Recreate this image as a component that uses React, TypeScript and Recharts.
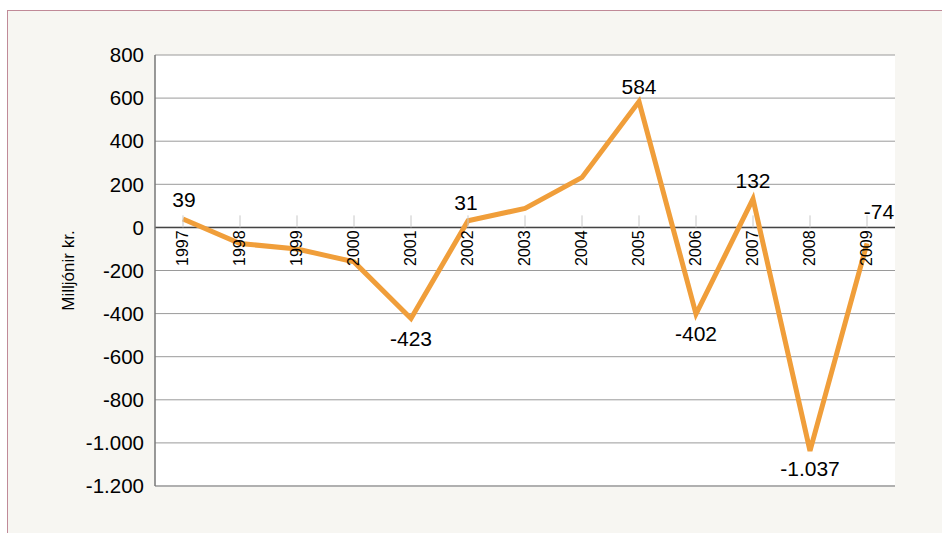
import React from 'react';
import { LineChart, Line, XAxis, YAxis, CartesianGrid, ReferenceLine, ReferenceDot, LabelList, Label } from 'recharts';

const years = ['1997', '1998', '1999', '2000', '2001', '2002', '2003', '2004', '2005', '2006', '2007', '2008', '2009'];
const values = [39, -75, -100, -160, -423, 31, 88, 232, 584, -402, 132, -1037, -74];
const labelShown = [true, false, false, false, true, true, false, false, true, true, true, true, true];
const yTicks = [-1200, -1000, -800, -600, -400, -200, 0, 200, 400, 600, 800];
const yLabel = 'Milljónir kr.';

const LABEL_PLACEMENT: Record<string, { dx: number; dy: number }> = {
  '1997': { dx: 1, dy: -19 },
  '2001': { dx: 0, dy: 20 },
  '2002': { dx: -2, dy: -18 },
  '2005': { dx: 0, dy: -15 },
  '2006': { dx: 0, dy: 19 },
  '2007': { dx: 0, dy: -18 },
  '2008': { dx: 0, dy: 18 },
  '2009': { dx: 12, dy: -32 },
};

const data = years.map((y, i) => ({ year: y, value: values[i], show: labelShown[i] }));

const fmt = (v: number) => {
  const neg = v < 0;
  const s = Math.abs(v).toString().replace(/\B(?=(\d{3})+(?!\d))/g, '.');
  return (neg ? '-' : '') + s;
};

const FONT = '"Liberation Sans", Arial, Helvetica, sans-serif';

const DataLabel = (props: any) => {
  const { x, y, value, index } = props;
  if (!data[index].show) return null;
  const p = LABEL_PLACEMENT[data[index].year] || { dx: 0, dy: -18 };
  return (
    <text x={x + p.dx} y={y + p.dy} textAnchor="middle" dominantBaseline="central" fontSize={21} fill="#000" fontFamily={FONT}>
      {fmt(value)}
    </text>
  );
};

const YearMark = ({ cx, cy, label }: { cx: number; cy: number; label: string }) => (
  <g>
    <line x1={cx} x2={cx} y1={cy - 12} y2={cy} stroke="#c8c8c8" strokeWidth={1} />
    <text
      x={cx}
      y={cy + 3}
      transform={`rotate(-90, ${cx}, ${cy + 3})`}
      textAnchor="end"
      dominantBaseline="central"
      fontSize={16}
      fill="#000"
      fontFamily={FONT}
    >
      {label}
    </text>
  </g>
);

export default function App() {
  return (
    <div style={{ position: 'absolute', left: 0, top: 0, width: 942, height: 533, background: '#fff', overflow: 'hidden' }}>
      <div
        style={{
          position: 'absolute',
          left: 7,
          top: 10,
          width: 1000,
          height: 600,
          background: '#f7f6f2',
          borderTop: '1.5px solid #c08a98',
          borderLeft: '1.5px solid #c08a98',
        }}
      />
      <div style={{ position: 'absolute', left: 0, top: 0 }}>
        <LineChart width={942} height={533} data={data} margin={{ top: 55, right: 47, bottom: 47, left: 0 }}>
          <CartesianGrid vertical={false} stroke="#9a9a9a" strokeWidth={1} fill="#ffffff" />
          <XAxis dataKey="year" type="category" hide padding={{ left: 28, right: 28 }} />
          <YAxis
            type="number"
            domain={[-1200, 800]}
            ticks={yTicks}
            interval={0}
            width={155}
            tickLine={false}
            tickSize={0}
            tickMargin={11}
            axisLine={{ stroke: '#777', strokeWidth: 1.5 }}
            tick={{ fontSize: 20.5, fill: '#000', fontFamily: FONT }}
            tickFormatter={fmt}
          >
            <Label
              content={(props: any) => {
                const vb = props.viewBox;
                const cx = vb.x + 68;
                const cy = vb.y + vb.height / 2;
                return (
                  <text x={cx} y={cy} transform={`rotate(-90, ${cx}, ${cy})`} textAnchor="middle" dominantBaseline="central" fontSize={17} fill="#000" fontFamily={FONT}>
                    {yLabel}
                  </text>
                );
              }}
            />
          </YAxis>
          <ReferenceLine y={-1200} stroke="#b0b0b0" strokeWidth={2} />
          <ReferenceLine y={0} stroke="#444" strokeWidth={1.5} />
          {years.map((y) => (
            <ReferenceDot key={y} x={y} y={0} r={0} shape={(p: any) => <YearMark cx={p.cx} cy={p.cy} label={y} />} />
          ))}
          <Line
            dataKey="value"
            type="linear"
            stroke="#f09e3a"
            strokeWidth={5}
            strokeLinejoin="miter"
            dot={false}
            activeDot={false}
            isAnimationActive={false}
          >
            <LabelList dataKey="value" content={DataLabel} />
          </Line>
        </LineChart>
      </div>
    </div>
  );
}
